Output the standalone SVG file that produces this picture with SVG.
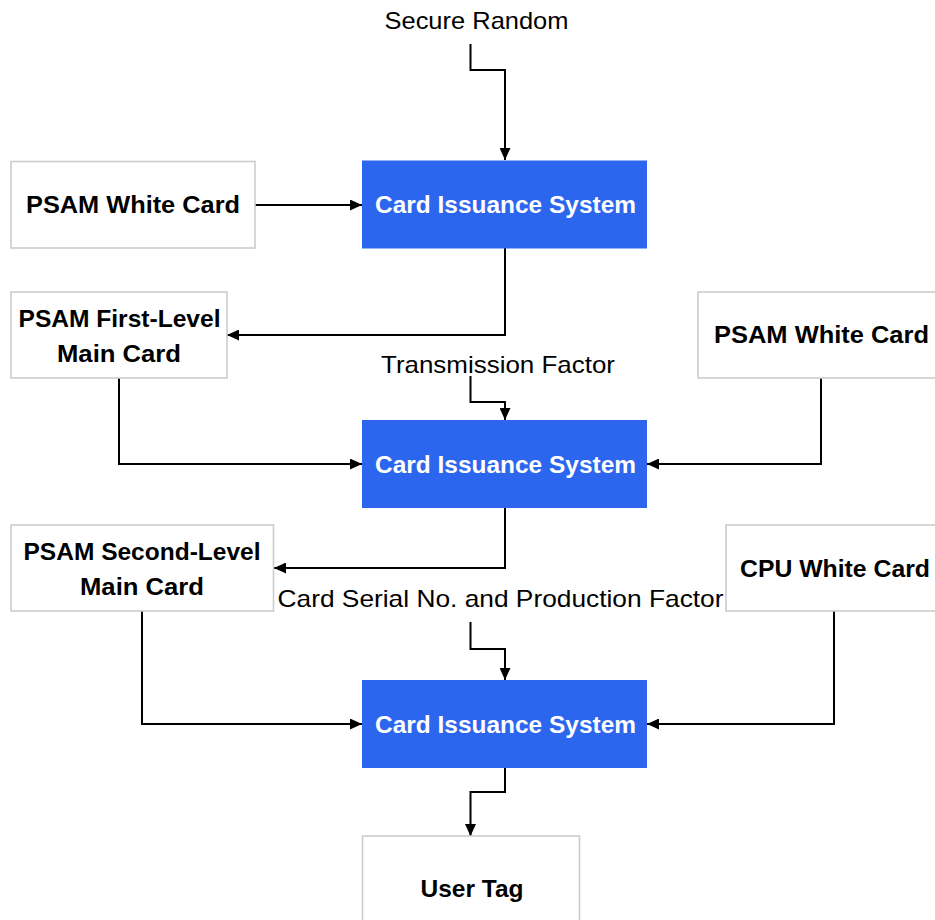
<svg xmlns="http://www.w3.org/2000/svg" width="935" height="920" viewBox="0 0 935 920">
  <defs>
    <marker id="arrow" markerUnits="userSpaceOnUse" markerWidth="12" markerHeight="11" refX="12" refY="5.5" orient="auto">
      <path d="M0,0 L12,5.5 L0,11 Z" fill="#000"/>
    </marker>
    <style>
      .card { fill: #ffffff; stroke: #cccccc; stroke-width: 1.6; }
      .sys { fill: #2d66ee; }
      .lbl { font-family: "Liberation Sans", Arial, sans-serif; font-size: 24px; font-weight: bold; text-anchor: middle; fill: #000; }
      .sys-lbl { font-family: "Liberation Sans", Arial, sans-serif; font-size: 24px; font-weight: bold; text-anchor: middle; fill: #ffffff; }
      .note { font-family: "Liberation Sans", Arial, sans-serif; font-size: 24px; text-anchor: middle; fill: #000; }
      .wire { fill: none; stroke: #000; stroke-width: 2; marker-end: url(#arrow); }
    </style>
  </defs>
  <rect width="935" height="920" fill="#ffffff"/>

  <!-- connectors -->
  <g id="connectors">
    <path class="wire" d="M470.5,44 V70 H505 V160"/>
    <path class="wire" d="M255,205 H362"/>
    <path class="wire" d="M505,248 V335 H227"/>
    <path class="wire" d="M470.5,376 V402 H505 V420"/>
    <path class="wire" d="M119,378 V464 H362"/>
    <path class="wire" d="M821,378 V464 H647"/>
    <path class="wire" d="M505,508 V568 H274"/>
    <path class="wire" d="M470.5,622 V649 H505 V680"/>
    <path class="wire" d="M142,611 V724 H362"/>
    <path class="wire" d="M834,611 V724 H647"/>
    <path class="wire" d="M505,768 V792 H470.5 V836"/>
  </g>

  <!-- input labels -->
  <g id="secure-random">
    <text class="note" x="476.5" y="29" textLength="184" lengthAdjust="spacingAndGlyphs">Secure Random</text>
  </g>
  <g id="transmission-factor">
    <text class="note" x="498" y="373" textLength="234" lengthAdjust="spacingAndGlyphs">Transmission Factor</text>
  </g>
  <g id="serial-production-factor">
    <text class="note" x="500.5" y="607" textLength="446" lengthAdjust="spacingAndGlyphs">Card Serial No. and Production Factor</text>
  </g>

  <!-- stage 1 -->
  <g id="psam-white-card-1">
    <rect class="card" x="11" y="161.5" width="244" height="86.5"/>
    <text class="lbl" x="133" y="213" textLength="214" lengthAdjust="spacingAndGlyphs">PSAM White Card</text>
  </g>
  <g id="issuance-system-1">
    <rect class="sys" x="362" y="160.5" width="285" height="88"/>
    <text class="sys-lbl" x="505.5" y="213" textLength="261" lengthAdjust="spacingAndGlyphs">Card Issuance System</text>
  </g>

  <!-- stage 2 -->
  <g id="psam-first-level-main-card">
    <rect class="card" x="11" y="292" width="216" height="86"/>
    <text class="lbl" x="119.5" y="327" textLength="202" lengthAdjust="spacingAndGlyphs">PSAM First-Level</text>
    <text class="lbl" x="119" y="362" textLength="124" lengthAdjust="spacingAndGlyphs">Main Card</text>
  </g>
  <g id="psam-white-card-2">
    <rect class="card" x="698" y="292" width="246" height="86"/>
    <text class="lbl" x="821.5" y="343" textLength="215" lengthAdjust="spacingAndGlyphs">PSAM White Card</text>
  </g>
  <g id="issuance-system-2">
    <rect class="sys" x="362" y="420" width="285" height="88"/>
    <text class="sys-lbl" x="505.5" y="473" textLength="261" lengthAdjust="spacingAndGlyphs">Card Issuance System</text>
  </g>

  <!-- stage 3 -->
  <g id="psam-second-level-main-card">
    <rect class="card" x="11" y="525" width="262.5" height="86"/>
    <text class="lbl" x="142" y="560" textLength="237" lengthAdjust="spacingAndGlyphs">PSAM Second-Level</text>
    <text class="lbl" x="142" y="595" textLength="124" lengthAdjust="spacingAndGlyphs">Main Card</text>
  </g>
  <g id="cpu-white-card">
    <rect class="card" x="726" y="525" width="218" height="86"/>
    <text class="lbl" x="835" y="577" textLength="190" lengthAdjust="spacingAndGlyphs">CPU White Card</text>
  </g>
  <g id="issuance-system-3">
    <rect class="sys" x="362" y="680" width="285" height="88"/>
    <text class="sys-lbl" x="505.5" y="733" textLength="261" lengthAdjust="spacingAndGlyphs">Card Issuance System</text>
  </g>

  <!-- output -->
  <g id="user-tag">
    <rect class="card" x="362.5" y="836" width="217" height="88"/>
    <text class="lbl" x="472" y="897" textLength="103" lengthAdjust="spacingAndGlyphs">User Tag</text>
  </g>
</svg>
